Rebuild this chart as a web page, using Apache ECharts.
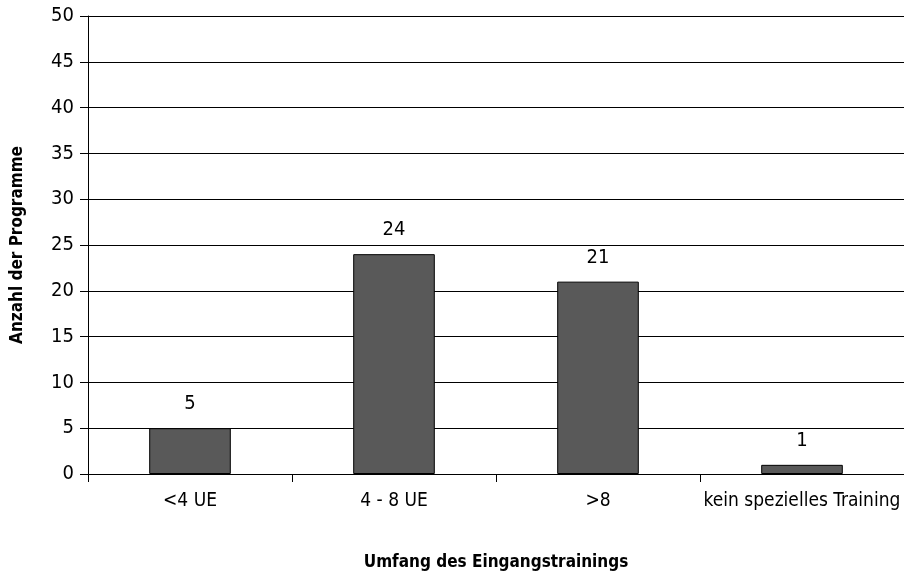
<!DOCTYPE html>
<html>
<head>
<meta charset="utf-8">
<script src="https://cdn.jsdelivr.net/npm/echarts@6/dist/echarts.min.js"></script>
<style>
  html, body { margin: 0; padding: 0; background: #fff; }
  #chart { width: 904px; height: 576px; }
</style>
</head>
<body>
<div id="chart"></div>
<script>
  // Daten
  var categories = ['<4 UE', '4 - 8 UE', '>8', 'kein spezielles Training'];
  var programme = [5, 24, 21, 1];
  var yTicks = [0, 50, 5]; // min, max, interval

  var font = '"DejaVu Sans Condensed", "Liberation Sans Narrow", sans-serif';

  var myChart = echarts.init(document.getElementById('chart'), null, { renderer: 'canvas' });

  var option = {
    backgroundColor: '#ffffff',
    animation: false,
    grid: {
      left: 88,
      right: 0,
      top: 16,
      bottom: 101
    },
    xAxis: {
      type: 'category',
      data: categories,
      name: 'Umfang des Eingangstrainings',
      nameLocation: 'middle',
      nameGap: 80,
      nameTextStyle: { fontFamily: font, fontSize: 17, fontWeight: 'bold', color: '#000' },
      axisLine: { lineStyle: { color: '#000', width: 1 } },
      axisTick: { show: true, length: 8, inside: false, lineStyle: { color: '#000' } },
      axisLabel: { fontFamily: font, fontSize: 19, color: '#000', margin: 18, interval: 0 },
      splitLine: { show: false }
    },
    yAxis: {
      type: 'value',
      min: yTicks[0],
      max: yTicks[1],
      interval: yTicks[2],
      name: 'Anzahl der Programme',
      nameLocation: 'middle',
      nameGap: 62,
      nameTextStyle: { fontFamily: font, fontSize: 17, fontWeight: 'bold', color: '#000' },
      axisLine: { show: true, lineStyle: { color: '#000', width: 1 } },
      axisTick: { show: true, length: 8, lineStyle: { color: '#000' } },
      axisLabel: { fontFamily: font, fontSize: 20, color: '#000', margin: 14 },
      splitLine: { show: true, lineStyle: { color: '#000', width: 1 } }
    },
    series: [{
      type: 'bar',
      data: programme,
      barWidth: '40%',
      itemStyle: { color: '#595959', borderColor: '#000', borderWidth: 1 },
      label: {
        show: true,
        position: 'top',
        distance: 14,
        fontFamily: font,
        fontSize: 20,
        color: '#000'
      }
    }]
  };

  myChart.setOption(option);
  window.addEventListener('resize', myChart.resize);
</script>
</body>
</html>
